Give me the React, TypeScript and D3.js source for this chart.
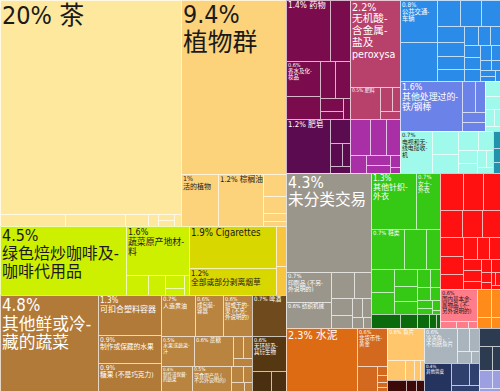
import * as d3 from 'd3';

type Item = [string, number];

const W = 500;
const H = 391;

// export shares (%) — '' marks the small unlabelled products
const small = (vals: number[]): Item[] => vals.map((v) => ['', v] as Item);

const teaItems: Item[] = [['茶', 19.8], ...small([0.4, 0.37, 0.14, 0.06, 0.05, 0.05, 0.04])];
const floraMain: Item[] = [['植物群', 9.4]];
const floraRow: Item[] = [['活的植物', 1.0], ['棕榈油', 1.2]];
const floraSmall = small([0.25, 0.2, 0.1, 0.05]);
const coffeeItems: Item[] = [['绿色焙炒咖啡及咖啡代用品', 4.5], ['蔬菜原产地材料', 1.6], ...small([0.23, 0.18, 0.13, 0.07, 0.05])];
const tobaccoItems: Item[] = [['Cigarettes', 1.9], ['全部或部分剥离烟草', 1.2]];
const fatItems: Item[] = small([0.2, 0.15]);
const vegBigItems: Item[] = [['其他鲜或冷藏的蔬菜', 4.8]];
const vegColItems: Item[] = [['可扣合塑料容器', 1.3], ['制作或保藏的水果', 0.9], ['糖果 (不是巧克力)', 0.9]];
const foodRow1: Item[] = [['人造黄油', 0.7], ['成包装容器', 0.6], ['鲜或干的果 (不另外说明的)', 0.6]];
const foodRow2: Item[] = [['水果或蔬菜汁', 0.5], ['蔗糖', 0.6]];
const foodRow2Small = small([0.12, 0.1, 0.08]);
const foodRow3: Item[] = [['制作或保藏的蔬菜', 0.4], ['可食用产品 (不另外说明的)', 0.5]];
const foodRow3Small = small([0.1, 0.08, 0.06, 0.04]);
const beerItems: Item[] = [['啤酒', 0.7]];
const alcoholItems: Item[] = [['无环醇及其衍生物', 0.6]];
const beerDarkItems = small([0.2, 0.15]);

const pharmaTop: Item[] = [['药物', 1.4], ['', 0.63]];
const pharmaLow: Item[] = [['香水及化妆品', 0.6], ...small([0.4, 0.3, 0.28, 0.15, 0.1, 0.08])];
const inorganicItems: Item[] = [['无机酸含金属盐及peroxysalts', 2.2], ['肥料', 0.5], ...small([0.15, 0.1, 0.08])];
const soapItems: Item[] = [['肥皂', 1.2], ...small([0.25, 0.15, 0.1, 0.07])];
const violetItems = small([0.35, 0.3, 0.25, 0.15, 0.12, 0.1, 0.06, 0.03]);
const busItems: Item[] = [['公共交通车辆', 0.8], ['', 0.75]];
const blueSmall = small([0.3, 0.28, 0.25, 0.22, 0.2, 0.18, 0.16, 0.14, 0.12, 0.1, 0.1, 0.1, 0.1, 0.08, 0.07, 0.06, 0.05, 0.04, 0.04, 0.03]);
const lavItems: Item[] = [['其他处理过的铁/钢棒', 1.6], ...small([0.2, 0.15, 0.12, 0.1])];
const cyanStrip = small([0.12, 0.1, 0.08, 0.05, 0.04]);
const tvItems: Item[] = [['电视和无线电接收机', 0.7], ...small([0.3, 0.25, 0.2, 0.15, 0.12, 0.1, 0.08, 0.06, 0.05])];
const tealItems = small([0.06, 0.05, 0.04]);

const greyMain: Item[] = [['未分类交易', 4.3]];
const greyLower: Item[] = [['印刷品 (不另外说明的)', 0.7], ['纺织机械', 0.6], ...small([0.3, 0.22, 0.18, 0.14, 0.1, 0.08, 0.06, 0.04])];
const greenTop: Item[] = [['其他针织外衣', 1.3], ['女士外衣', 0.7]];
const greenMid: Item[] = [['鞋类', 0.7], ['', 0.45], ['', 0.3]];
const greenSmall = small([0.28, 0.27, 0.2, 0.18, 0.15, 0.12, 0.1, 0.08, 0.07, 0.06, 0.05, 0.04, 0.02]);
const darkGreenItems = small([0.2, 0.12, 0.08, 0.05, 0.03]);
const redItems = small([0.42, 0.38, 0.33, 0.3, 0.28, 0.25, 0.22, 0.2, 0.18, 0.16, 0.14, 0.12, 0.1, 0.1, 0.08, 0.07, 0.06, 0.05, 0.04, 0.03, 0.03, 0.02]);
const pinkItems: Item[] = [['国内基本金属物品 (不另外说明的)', 0.6], ...small([0.05, 0.04, 0.03])];
const orangeItems = small([0.2, 0.12, 0.08, 0.05]);

const cementItems: Item[] = [['水泥', 2.3]];
const goldItems: Item[] = [['非货币性黄金', 0.6]];
const goldLower = small([0.26]);
const goldSmall = small([0.05, 0.04, 0.03, 0.02]);
const filletItems: Item[] = [['鱼片', 0.6]];
const filletSmall = small([0.18, 0.1, 0.06, 0.04]);
const darkRedItems = small([0.1, 0.06, 0.04]);
const frozenItems: Item[] = [['冷冻鱼，不包括鱼片', 0.6]];
const frozenSmall = small([0.15, 0.12, 0.08, 0.05]);
const hideItems: Item[] = [['其他兽皮', 0.4]];
const navySmall = small([0.2, 0.12, 0.08]);
const slateItems = small([0.2, 0.15, 0.1]);
const lav2Items = small([0.12, 0.08, 0.03]);

const colors: Record<string, string> = {
  tea: '#fde89e', flora: '#fcd27a', coffee: '#cdef00', tobacco: '#d9d700', fat: '#f8c53e',
  veg: '#b27a38', food: '#b8843f', beer: '#6e4a1c', alcohol: '#553812', beerDark: '#4a3010',
  pharma: '#7a0b4d', inorganic: '#b8416b', soap: '#5b0c50', violet: '#a92fa7',
  bus: '#2a8ce8', lav: '#6b83e8', cyan: '#a0faec', teal: '#2193ad',
  grey: '#9b968b', green: '#35c814', darkGreen: '#0b6a0b', red: '#ff1111', pink: '#ff7d8b', orange: '#ff8c1a',
  cement: '#dc6b14', gold: '#d2691f', fillet: '#ffc66b', darkRed: '#3c0a08', fishGrey: '#a9b4bc',
  navy: '#25335f', navy2: '#2f3f6e', slate: '#2c3b50', lav2: '#9c9fe0',
};
const darkText = new Set(['tea', 'flora', 'coffee', 'tobacco', 'fat', 'cyan', 'pink']);

type TNode = { name?: string; value?: number; group?: string; split?: 'h' | 'v'; children?: TNode[] };

const grp = (group: string, items: Item[], split?: 'h' | 'v'): TNode => ({
  split,
  children: items.map(([name, value]) => ({ name, value, group })),
});
const row = (...children: TNode[]): TNode => ({ split: 'h', children });
const col = (...children: TNode[]): TNode => ({ split: 'v', children });

const tree = row(
  col(
    row(
      grp('tea', teaItems),
      col(grp('flora', floraMain), row(grp('flora', floraRow, 'h'), grp('flora', floraSmall, 'v')))
    ),
    row(grp('coffee', coffeeItems), grp('tobacco', tobaccoItems, 'v'), grp('fat', fatItems, 'v')),
    row(
      grp('veg', vegBigItems),
      grp('veg', vegColItems, 'v'),
      col(
        grp('food', foodRow1, 'h'),
        row(grp('food', foodRow2, 'h'), grp('food', foodRow2Small)),
        row(grp('food', foodRow3, 'h'), grp('food', foodRow3Small))
      ),
      col(grp('beer', beerItems), grp('alcohol', alcoholItems), grp('beerDark', beerDarkItems, 'h'))
    )
  ),
  col(
    row(
      col(
        row(col(grp('pharma', pharmaTop, 'h'), grp('pharma', pharmaLow)), grp('inorganic', inorganicItems)),
        row(grp('soap', soapItems), grp('violet', violetItems))
      ),
      col(
        row(grp('bus', busItems, 'v'), grp('bus', blueSmall)),
        row(grp('lav', lavItems), grp('cyan', cyanStrip)),
        row(grp('cyan', tvItems), grp('teal', tealItems, 'v'))
      )
    ),
    row(
      col(grp('grey', greyMain), grp('grey', greyLower)),
      col(grp('green', greenTop, 'h'), grp('green', greenMid, 'h'), grp('green', greenSmall), grp('darkGreen', darkGreenItems, 'h')),
      col(grp('red', redItems), row(grp('pink', pinkItems), grp('orange', orangeItems)))
    ),
    row(
      grp('cement', cementItems),
      col(grp('gold', goldItems), row(grp('gold', goldLower), grp('gold', goldSmall, 'v'))),
      col(grp('fillet', filletItems), grp('fillet', filletSmall, 'h'), grp('darkRed', darkRedItems, 'h')),
      col(row(grp('fishGrey', frozenItems), grp('fishGrey', frozenSmall)), row(grp('navy', hideItems), grp('navy2', navySmall))),
      col(grp('slate', slateItems), grp('lav2', lav2Items))
    )
  )
);

// explicit slice/dice for the upper levels, squarify inside the groups
function tile(node: any, x0: number, y0: number, x1: number, y1: number) {
  const s = node.data.split;
  if (s === 'h') d3.treemapDice(node, x0, y0, x1, y1);
  else if (s === 'v') d3.treemapSlice(node, x0, y0, x1, y1);
  else d3.treemapSquarify(node, x0, y0, x1, y1);
}

const FONT = "'Liberation Sans Narrow','DejaVu Sans Condensed','Noto Sans CJK SC',sans-serif";
const CJK = /[\u2e80-\u9fff\uff00-\uffef\u3000-\u303f]/;

const em = (s: string) =>
  Array.from(s).reduce((a, c) => {
    if (CJK.test(c)) return a + 1;
    if (c === ' ') return a + 0.27;
    if (c === '%') return a + 0.72;
    if (c === '.' || c === '(' || c === ')' || c === '/') return a + 0.28;
    if (/[A-Z]/.test(c)) return a + 0.6;
    return a + 0.48;
  }, 0);

const fmt = (v: number) => (v >= 10 ? `${Math.round(v)}%` : `${+v.toFixed(1)}%`);

// cut a line down until it fits the box width (the reference clips the overflow)
const fit = (s: string, fs: number, maxW: number) => {
  let t = s;
  while (t.length > 1 && em(t) * fs > maxW) t = t.slice(0, -1);
  return t;
};

function wrapLabel(pct: string, name: string, fs: number, maxW: number) {
  const one = `${pct} ${name}`;
  if (em(one) * fs <= maxW) return [one];
  const lines = [pct];
  const tokens = name.match(/[\u2e80-\u9fff\uff00-\uffef\u3000-\u303f]|[^\s\u2e80-\u9fff\uff00-\uffef\u3000-\u303f]+|\s+/g) || [];
  let cur = '';
  tokens.forEach((t, i) => {
    const last = i === tokens.length - 1;
    const next = cur + t;
    if (cur === '' || em(next + (last ? '' : '-')) * fs <= maxW) {
      cur = next;
      return;
    }
    const hy = CJK.test(t) && CJK.test(cur[cur.length - 1]) ? '-' : '';
    lines.push(cur.trimEnd() + hy);
    cur = t.trimStart();
  });
  if (cur) lines.push(cur);
  return lines.map((l) => fit(l, fs, maxW));
}

const fontSize = (w: number, h: number) => {
  const s = Math.sqrt(w * h);
  const fs = s < 60 ? 0.16 * s : 0.15 * s + (s - 60) * 0.06 + 0.6 * Math.max(0, 1 - (s - 60) / 20);
  return Math.min(25, Math.max(4.5, fs));
};

export default function App() {
  const root = d3
    .treemap<TNode>()
    .tile(tile as any)
    .size([W, H])
    .round(true)(d3.hierarchy(tree).sum((d) => d.value ?? 0));

  const leaves = root.leaves();

  return (
    <svg width={W} height={H} style={{ position: 'absolute', left: 0, top: 0, background: '#fff' }} fontFamily={FONT}>
      <defs>
        {leaves.map((d, i) => (
          <clipPath id={`c${i}`} key={i}>
            <rect x={d.x0} y={d.y0} width={d.x1 - d.x0} height={d.y1 - d.y0} />
          </clipPath>
        ))}
      </defs>
      {leaves.map((d, i) => (
        <rect
          key={i}
          x={d.x0}
          y={d.y0}
          width={Math.max(0, d.x1 - d.x0)}
          height={Math.max(0, d.y1 - d.y0)}
          fill={colors[d.data.group!]}
          stroke="rgba(255,255,255,0.7)"
          strokeWidth={1}
          shapeRendering="crispEdges"
        />
      ))}
      {leaves.map((d, i) => {
        const w = d.x1 - d.x0;
        const h = d.y1 - d.y0;
        if (!d.data.name || w < 14 || h < 8) return null;
        const fs = fontSize(w, h);
        const lh = fs * 1.1;
        const y0 = d.y0 + 1 + fs * 0.9;
        const lines = wrapLabel(fmt(d.data.value!), d.data.name, fs, w - 4).filter(
          (_, j) => j === 0 || y0 + j * lh + fs * 0.2 <= d.y1
        );
        const fill = darkText.has(d.data.group!) ? '#1a1a1a' : '#ffffff';
        return (
          <g key={i} clipPath={`url(#c${i})`}>
            {lines.map((ln, j) => (
              <text key={j} x={d.x0 + 2} y={y0 + j * lh} fontSize={fs} fill={fill}>
                {ln}
              </text>
            ))}
          </g>
        );
      })}
    </svg>
  );
}
